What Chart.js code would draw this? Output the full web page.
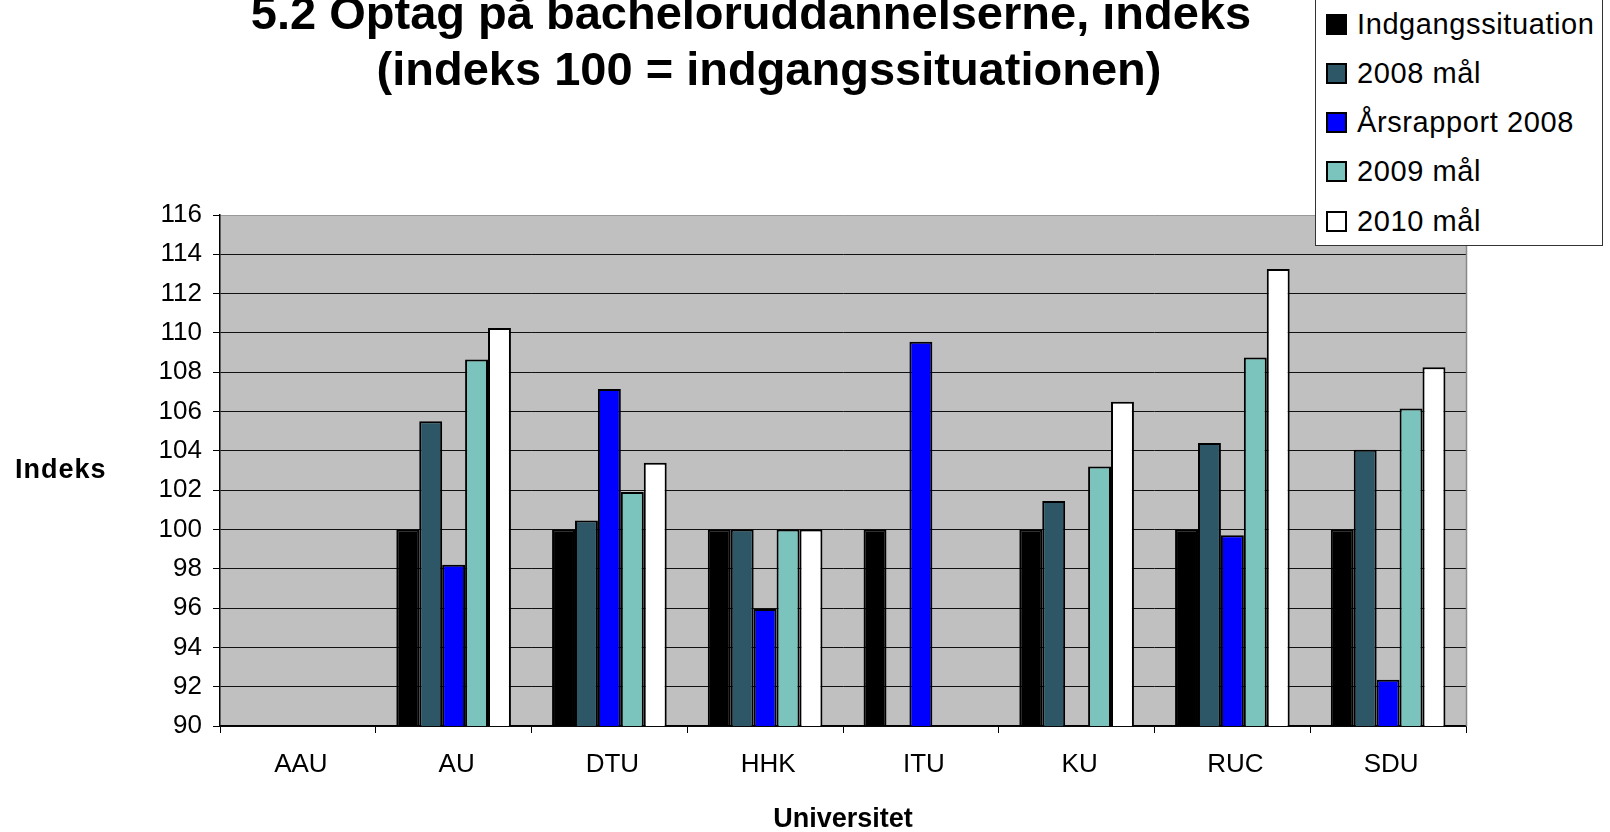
<!DOCTYPE html>
<html>
<head>
<meta charset="utf-8">
<script src="https://cdn.jsdelivr.net/npm/chart.js@4"></script>
<style>
  body{margin:0;background:#fff;font-family:"Liberation Sans",Arial,sans-serif;}
  #wrap{position:relative;width:1610px;height:832px;overflow:hidden;}
  #c{position:absolute;left:0;top:0;}
  .ttl{position:absolute;width:1100px;text-align:center;font-weight:bold;font-size:47px;line-height:47px;color:#000;white-space:nowrap;}
  #ytitle{position:absolute;left:15px;top:456px;font-weight:bold;font-size:27px;line-height:27px;letter-spacing:1px;}
  #legend{position:absolute;left:1315px;top:-2px;width:288px;height:248px;background:#fff;border:1px solid #333;box-sizing:border-box;}
  .li{position:absolute;left:10px;height:30px;display:flex;align-items:center;font-size:29px;letter-spacing:0.6px;white-space:nowrap;}
  .li i{display:inline-block;width:17px;height:17px;border:2px solid #000;margin-right:10px;}
</style>
</head>
<body>
<div id="wrap">
  <canvas id="c" width="1610" height="832"></canvas>
  <div class="ttl" style="left:201px;top:-11px">5.2 Optag på bacheloruddannelserne, indeks</div>
  <div class="ttl" style="left:219px;top:45px">(indeks 100 = indgangssituationen)</div>
  <div id="ytitle">Indeks</div>
  <div id="legend"></div>
</div>
<script>
// categories + series (null = no bar)
const universiteter=['AAU','AU','DTU','HHK','ITU','KU','RUC','SDU'];
const indgang     =[null,100,   100,   100,  100,   100,   100,   100];
const maal2008    =[null,105.5, 100.45,100,  null,  101.45,104.4, 104.05];
const aarsrap2008 =[null,98.2,  107.15,95.95,109.55,null,  99.7,  92.35];
const maal2009    =[null,108.65,101.9, 100,  null,  103.2, 108.75,106.15];
const maal2010    =[null,110.25,103.4, 100,  null,  106.5, 113.25,108.25];
const serieNavne  =['Indgangssituation','2008 mål','Årsrapport 2008','2009 mål','2010 mål'];
const serieFarver =['#000000','#2D5766','#0000FF','#7AC4BD','#FFFFFF'];
const yMin=90, yMax=116, yStep=2;

const series=[indgang,maal2008,aarsrap2008,maal2009,maal2010];

// ── legend (html, top right, overlaps plot like the original) ──
const lg=document.getElementById('legend');
serieNavne.forEach((n,i)=>{
  const d=document.createElement('div');
  d.className='li'; d.style.top=(10+i*49.3)+'px';
  d.innerHTML=`<i style="background:${serieFarver[i]}"></i>${n}`;
  lg.appendChild(d);
});

// grey plot background + grey right edge
const plotBg={
  id:'plotBg',
  beforeDraw(ch){
    const a=ch.chartArea, c=ch.ctx;
    c.save(); c.fillStyle='#C0C0C0';
    c.fillRect(a.left,a.top,a.right-a.left,a.bottom-a.top);
    c.restore();
  },
  afterDraw(ch){
    const a=ch.chartArea, c=ch.ctx;
    c.save(); c.strokeStyle='#888'; c.lineWidth=1.5;
    c.beginPath(); c.moveTo(a.right+0.5,a.top); c.lineTo(a.right+0.5,a.bottom); c.stroke();
    c.restore();
  }
};

Chart.defaults.font.family='"Liberation Sans", Arial, sans-serif';
Chart.defaults.color='#000';

new Chart(document.getElementById('c').getContext('2d'),{
  type:'bar',
  data:{
    labels:universiteter,
    datasets:series.map((s,i)=>({
      label:serieNavne[i], data:s,
      backgroundColor:serieFarver[i], borderColor:'#000', borderWidth:2,
      categoryPercentage:0.736, barPercentage:1.0
    }))
  },
  options:{
    responsive:false, animation:false,
    layout:{padding:{top:215,right:144,left:0,bottom:0}},
    plugins:{legend:{display:false},title:{display:false},tooltip:{enabled:false}},
    scales:{
      x:{
        grid:{display:true,drawOnChartArea:false,offset:true,tickLength:7,tickColor:'#000',color:'#000'},
        border:{display:true,color:'#000',width:1.5},
        ticks:{font:{size:26},padding:16,labelOffset:3,color:'#000'},
        title:{display:true,text:'Universitet',font:{size:27,weight:'bold'},padding:{top:0,bottom:-4},color:'#000'},
        afterFit(s){ s.height=106; }
      },
      y:{
        min:yMin,max:yMax,
        ticks:{stepSize:yStep,font:{size:26},padding:11,color:'#000'},
        grid:{color:c=>c.tick&&c.tick.value===yMax?'#999':'#111',lineWidth:1,tickLength:7,tickColor:'#000'},
        border:{display:true,color:'#000',width:1.5},
        afterFit(s){ s.width=220; }
      }
    }
  },
  plugins:[plotBg]
});
</script>
</body>
</html>
